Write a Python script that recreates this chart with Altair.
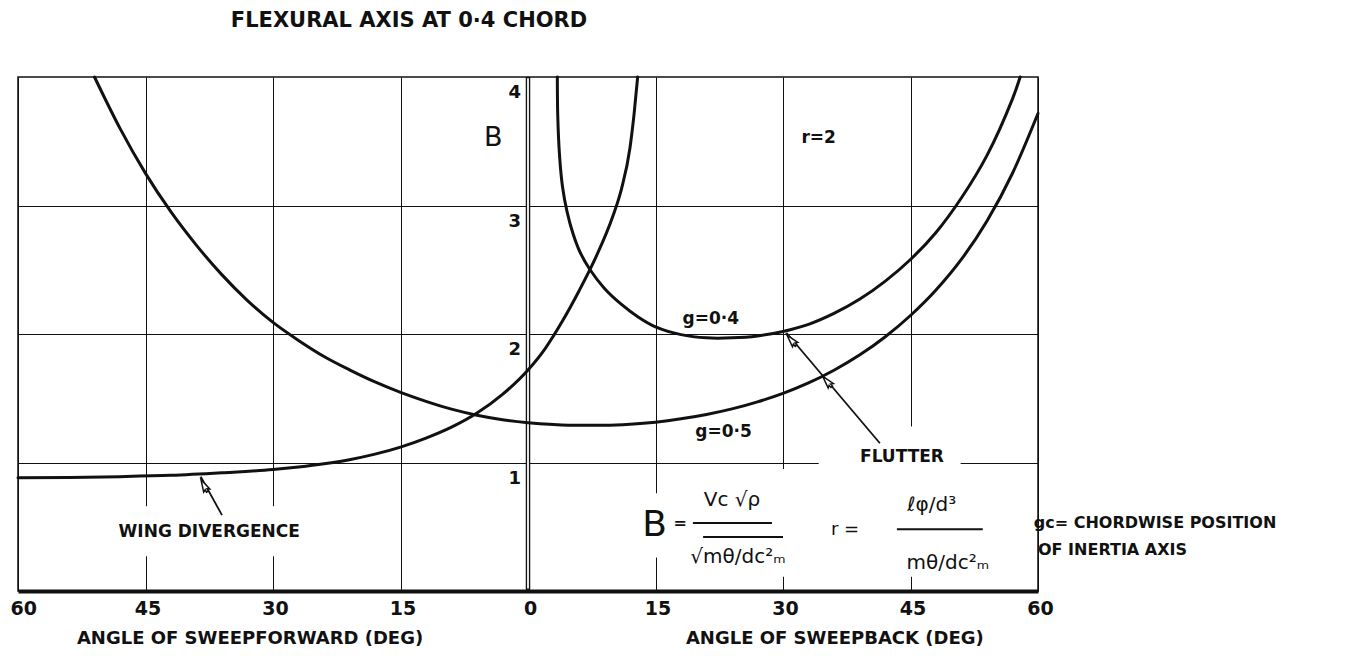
import altair as alt
import pandas as pd

# ---------------- data ----------------
sweep_ticks = [-60, -45, -30, -15, 0, 15, 30, 45, 60]
b_grid = [1, 2, 3]
b_tick_labels = [1, 2, 3, 4]

# flutter, g = 0.5
g05_deg = [-51, -48, -45, -42, -39, -36, -33, -30, -27, -24, -21, -18, -15, -12, -9, -6, -3,
           0, 3, 6, 9, 12, 15, 18, 21, 24, 27, 30, 33, 36, 39, 42, 45, 48, 51, 54, 57, 60]
g05_B = [4.0, 3.60, 3.25, 2.95, 2.69, 2.46, 2.26, 2.09, 1.95, 1.825, 1.721, 1.627, 1.546,
         1.476, 1.415, 1.368, 1.333, 1.31, 1.296, 1.289, 1.290, 1.298, 1.314, 1.340, 1.374,
         1.417, 1.472, 1.538, 1.619, 1.718, 1.836, 1.977, 2.144, 2.342, 2.582, 2.879, 3.251,
         3.716]

# wing divergence
div_deg = [-60, -54, -48, -42, -36, -30, -27, -24, -21, -18, -15, -12, -9, -6, -3, 0, 2, 4,
           6, 8, 10, 11, 12, 12.5, 12.9]
div_B = [0.882, 0.884, 0.89, 0.90, 0.92, 0.945, 0.965, 0.99, 1.022, 1.065, 1.12, 1.19, 1.275,
         1.385, 1.53, 1.72, 1.885, 2.095, 2.335, 2.60, 2.92, 3.13, 3.45, 3.725, 4.0]

# flutter, g = 0.4
g04_deg = [3.45, 3.5, 3.7, 4.05, 4.6, 5.3, 6.1, 7.3, 9.0, 11.0, 13.0, 15, 18, 21, 24, 27, 30,
           33, 36, 39, 42, 45, 48, 51, 54, 57, 57.9]
g04_B = [4.0, 3.7, 3.4, 3.15, 2.95, 2.78, 2.64, 2.5, 2.355, 2.23, 2.13, 2.055, 1.995, 1.97,
         1.97, 1.985, 2.02, 2.075, 2.16, 2.27, 2.41, 2.58, 2.79, 3.06, 3.39, 3.83, 4.0]

FONT = "DejaVu Sans"
INK = "#111111"


def curve_df(name, xs, ys):
    return pd.DataFrame({"curve": name, "sweep": xs, "B": ys, "order": list(range(len(xs)))})


smooth_curves = pd.concat([
    curve_df("g=0.5", g05_deg, g05_B),
    curve_df("divergence", div_deg, div_B),
], ignore_index=True)
g04_curve = curve_df("g=0.4", g04_deg, g04_B)

x_enc = alt.X(
    "sweep:Q",
    scale=alt.Scale(domain=[-60, 60], nice=False, zero=False),
    axis=alt.Axis(values=sweep_ticks, grid=True, gridColor=INK, gridWidth=1,
                  domain=True, domainColor=INK, domainWidth=4,
                  ticks=False, tickSize=0, labelExpr="abs(datum.value)",
                  labelFont=FONT, labelFontSize=19, labelFontWeight="bold",
                  labelColor=INK, labelPadding=8,
                  labelAlign={"condition": {"test": "datum.value <= -60", "value": "left"},
                              "value": "center"},
                  labelOffset={"condition": {"test": "datum.value <= -60", "value": -8},
                               "value": 2},
                  labelFlush=False, labelOverlap=False, title=None),
)
y_enc = alt.Y(
    "B:Q",
    scale=alt.Scale(domain=[0, 4], nice=False, zero=False),
    axis=alt.Axis(values=b_grid, grid=True, gridColor=INK, gridWidth=1, domain=False,
                  ticks=False, tickSize=0, labels=False, title=None),
)

base_curves = alt.Chart(smooth_curves).mark_line(
    color=INK, strokeWidth=3, interpolate="monotone", strokeCap="round"
).encode(x=x_enc, y=y_enc, detail="curve:N", order="order:Q")

g04_line = alt.Chart(g04_curve).mark_line(
    color=INK, strokeWidth=3, interpolate="catmull-rom", strokeCap="round"
).encode(x="sweep:Q", y="B:Q", order="order:Q")

# white masks where the hand-drawn grid is interrupted by lettering
masks = pd.DataFrame({
    "x0": [-51, 12.5, 28, 43, 34.2],
    "x1": [-24, 17, 32, 47, 50.9],
    "y0": [0.27, 0.26, 0.11, 0.11, 0.92],
    "y1": [0.66, 0.76, 0.95, 1.28, 1.08],
})
mask_layer = alt.Chart(masks).mark_rect(color="white").encode(
    x="x0:Q", x2="x1:Q", y="y0:Q", y2="y1:Q")

# double line at zero sweep
zero_df = pd.DataFrame({"sweep": [0]})
zero_outer = alt.Chart(zero_df).mark_rule(color=INK, strokeWidth=4.5).encode(
    x="sweep:Q", y=alt.datum(0), y2=alt.datum(4))
zero_inner = alt.Chart(zero_df).mark_rule(color="white", strokeWidth=1.8).encode(
    x="sweep:Q", y=alt.datum(0.02), y2=alt.datum(3.99))

# arrows
arrows = pd.DataFrame({"x0": [41.4, -36.0], "y0": [1.15, 0.59],
                       "x1": [30.4, -38.5], "y1": [2.01, 0.89]})
arrow_lines = alt.Chart(arrows).mark_rule(color=INK, strokeWidth=1.8).encode(
    x="x0:Q", y="y0:Q", x2="x1:Q", y2="y1:Q")
heads = pd.DataFrame({"x": [31.0, 35.2, -38.1], "y": [1.95, 1.63, 0.82],
                      "ang": [319.5, 319.5, 332.2]})
arrow_heads = alt.Chart(heads).mark_point(
    shape="M0,-1L0.5,0.8L0.15,0.6L0.15,1L-0.15,1L-0.15,0.6L-0.5,0.8Z", filled=True,
    fill="white", stroke=INK, strokeWidth=1.5, size=190, opacity=1
).encode(x="x:Q", y="y:Q", angle=alt.Angle("ang:Q", scale=None))


def text_layer(rows, size, align="center", weight="bold"):
    df = pd.DataFrame(rows, columns=["label", "x", "y"])
    return alt.Chart(df).mark_text(
        font=FONT, fontSize=size, align=align, baseline="middle", color=INK,
        fontWeight=weight
    ).encode(x="x:Q", y="y:Q", text="label:N")


title_t = text_layer([["FLEXURAL AXIS AT 0·4 CHORD", -14.0, 4.436]], 21)
axis_titles = text_layer([["ANGLE OF SWEEPFORWARD (DEG)", -32.7, -0.375],
                          ["ANGLE OF SWEEPBACK (DEG)", 36.1, -0.375]], 18)
b_label = text_layer([["B", -4.1, 3.525]], 27, weight="normal")
curve_labels = text_layer([["r=2", 34.2, 3.525],
                           ["g=0·4", 21.5, 2.12],
                           ["g=0·5", 23.0, 1.24],
                           ["FLUTTER", 44.0, 1.04],
                           ["WING DIVERGENCE", -37.5, 0.46]], 17)

ytick_df = pd.DataFrame({"B": b_tick_labels, "sweep": [0] * len(b_tick_labels)})
ytick_text = alt.Chart(ytick_df).mark_text(
    font=FONT, fontSize=18, fontWeight="bold", align="right", baseline="middle",
    dx=-7, dy=16, color=INK
).encode(x="sweep:Q", y="B:Q", text="B:Q")

formula_big = text_layer([["B", 14.9, 0.514]], 36, weight="normal")
formula_eq = text_layer([["=", 17.9, 0.53]], 16)
formula_terms = text_layer([["Vc √ρ", 24.0, 0.708],
                            ["√mθ/dc²ₘ", 24.7, 0.262],
                            ["ℓφ/d³", 47.5, 0.67],
                            ["mθ/dc²ₘ", 49.4, 0.218]], 20, weight="normal")
formula_r = text_layer([["r =", 37.3, 0.475]], 18, weight="normal")
inertia = text_layer([["gc= CHORDWISE POSITION", 59.5, 0.53],
                      ["OF INERTIA AXIS", 60.0, 0.32]], 16, align="left")

bars = pd.DataFrame({"x0": [19.4, 20.6, 43.4], "x1": [28.7, 30.0, 53.5],
                     "y0": [0.53, 0.42, 0.48]})
fraction_bars = alt.Chart(bars).mark_rule(color=INK, strokeWidth=2).encode(
    x="x0:Q", x2="x1:Q", y="y0:Q")

chart = alt.layer(
    base_curves.transform_filter("false"),
    mask_layer,
    zero_outer,
    zero_inner,
    base_curves,
    g04_line,
    arrow_lines,
    arrow_heads,
    title_t, axis_titles, b_label, curve_labels, ytick_text,
    formula_big, formula_eq, formula_terms, formula_r, inertia, fraction_bars,
).properties(
    width=1020, height=514,
    padding={"left": 10, "top": 69, "right": 305, "bottom": 61},
    autosize=alt.AutoSizeParams(type="none"),
    background="white",
).configure_view(stroke=INK, strokeWidth=1.5)

chart.save("out.html", embed_options={"renderer": "svg", "actions": False})
